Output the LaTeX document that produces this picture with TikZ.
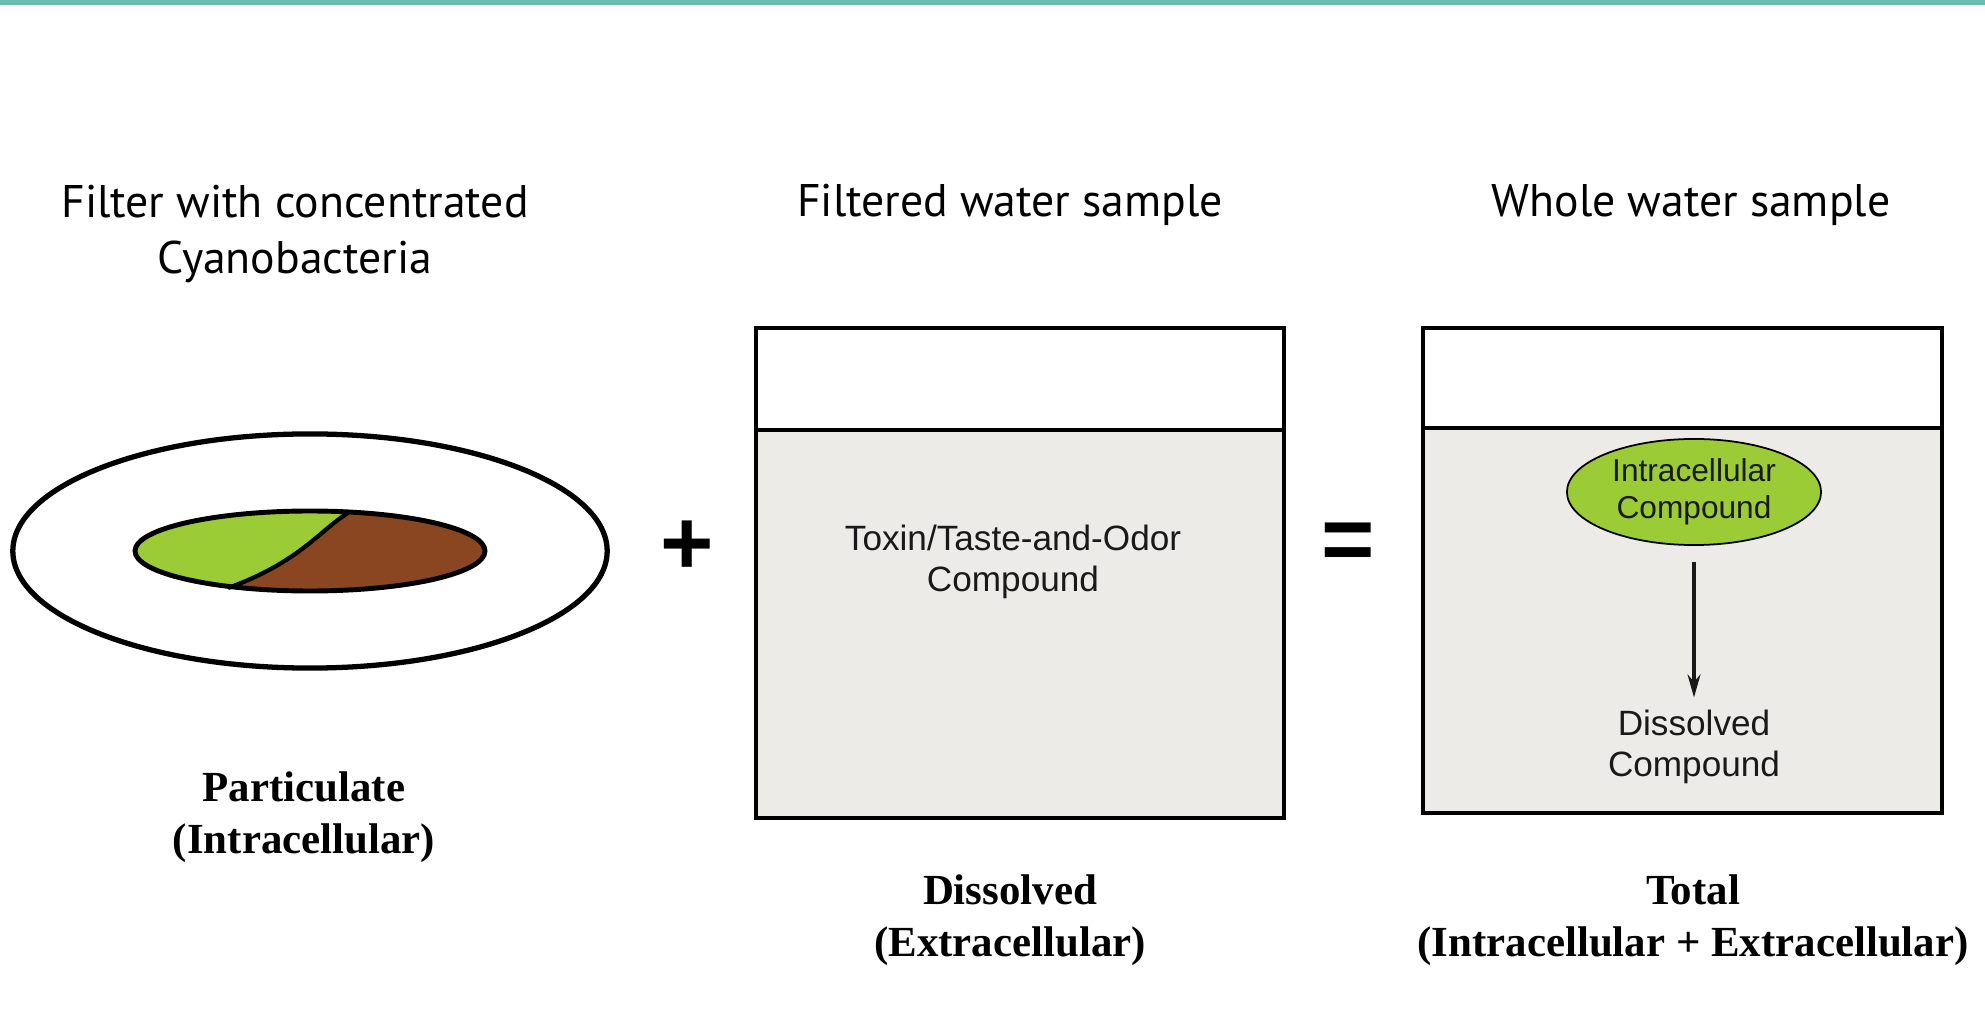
\documentclass[tikz,border=0pt]{standalone}
\usepackage{fontspec}
\setmainfont{Liberation Serif}
\newfontfamily\headfont{PT Sans}
\newfontfamily\arialfont{Liberation Sans}
\usetikzlibrary{shapes.geometric}
\usetikzlibrary{arrows.meta}

\definecolor{barteal}{HTML}{6BBBB0}
\definecolor{algae}{HTML}{9BCB35}
\definecolor{mud}{HTML}{8A4620}
\definecolor{water}{HTML}{ECEBE7}

\begin{document}
\begin{tikzpicture}[x=0.01cm, y=-0.01cm, >={Stealth[length=0.23cm,width=0.13cm]},
	title/.style={align=center, font=\headfont\fontsize{13}{16.2}\selectfont},
	inner/.style={align=center, font=\arialfont\fontsize{10}{11.8}\selectfont, text=black!90},
	caption/.style={align=center, font=\bfseries\fontsize{12.2}{14.8}\selectfont},
	sign/.style={font=\arialfont\bfseries\fontsize{26}{26}\selectfont},
	jar/.style={draw, line width=1.1pt}]
	\useasboundingbox (0,0) rectangle (1985,1016);
	\fill[barteal] (0,0) rectangle (1985,5);

	% filter with cyanobacteria
	\node[ellipse, draw, line width=1.5pt, minimum width=5.94cm, minimum height=2.34cm] (filter) at (310,551) {};
	\begin{scope}
		\clip (310,551) circle [x radius=175, y radius=40];
		\fill[mud] (310,551) circle [x radius=175, y radius=40];
		\fill[algae] (348,513) .. controls (320,530) and (300,562) .. (228,588) -- (120,600) -- (120,500) -- cycle;
	\end{scope}
	\draw[line width=1.2pt] (348,513) .. controls (320,530) and (300,562) .. (228,588);
	\draw[line width=1.4pt] (310,551) circle [x radius=175, y radius=40];

	\node[title] (t1) at (295,234) {Filter with concentrated\\Cyanobacteria};
	\node[title] (t2) at (1010,205) {Filtered water sample};
	\node[title] (t3) at (1691,205) {Whole water sample};

	\node[sign] (plus) at (687,548) {+};
	\node[sign] (equal) at (1348,547) {=};

	% filtered sample
	\filldraw[jar, fill=water] (756,430) rectangle (1284,818);
	\draw[jar] (756,328) rectangle (1284,430);
	\node[inner] (toxin) at (1013,562) {Toxin/Taste-and-Odor\\Compound};

	% whole sample
	\filldraw[jar, fill=water] (1423,428) rectangle (1942,813);
	\draw[jar] (1423,328) rectangle (1942,428);
	\node[ellipse, draw, fill=algae, line width=.5pt, minimum width=2.54cm, minimum height=1.06cm, inner sep=0pt,
		align=center, font=\arialfont\fontsize{9}{10.5}\selectfont, text=black!90] (intra) at (1694,492) {Intracellular\\Compound};
	\node[inner] (diss) at (1694,747) {Dissolved\\Compound};
	\draw[->, line width=.9pt, black!90, shorten <=0.16cm] (intra.south) -- (diss.north);

	\node[caption] (c1) at (304,817) {Particulate\\(Intracellular)};
	\node[caption] (c2) at (1010,920) {Dissolved\\(Extracellular)};
	\node[caption] (c3) at (1693,920) {Total\\(Intracellular + Extracellular)};
\end{tikzpicture}
\end{document}
